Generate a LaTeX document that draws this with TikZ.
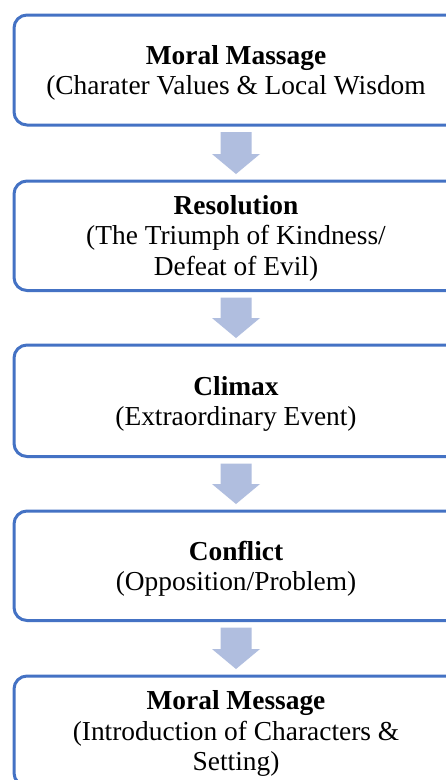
\documentclass[tikz,border=0pt]{standalone}
\usepackage{fontspec}
\setmainfont{Liberation Serif}
\usetikzlibrary{calc}
\definecolor{boxblue}{RGB}{68,114,196}
\definecolor{arrowfill}{RGB}{176,190,223}
\tikzset{
  stagebox/.style={draw=boxblue, line width=3pt, rounded corners=13pt, fill=white,
    minimum width=446pt, outer sep=0pt, inner sep=0pt},
  stagetext/.style={align=center, inner sep=0pt,
    font=\fontsize{27.4}{30.5}\selectfont},
  blockarrow/.style={fill=arrowfill, draw=none}
}
\newcommand{\downarrowblock}[2]{%
  \coordinate (t) at ($(#1.south)+(-1,7)$);
  \coordinate (p) at ($(#2.north)+(-1,-7)$);
  \fill[blockarrow] ($(t)+(-15.5,0)$) -- ($(t)+(15.5,0)$) -- ($(p)+(15.5,-20)$)
    -- ($(p)+(24,-20)$) -- (p) -- ($(p)+(-24,-20)$) -- ($(p)+(-15.5,-20)$) -- cycle;
}
\begin{document}
\begin{tikzpicture}[x=1pt,y=-1pt]
\useasboundingbox (0,0) rectangle (446,780);
\clip (0,0) rectangle (446,780);
\fill[white] (0,0) rectangle (446,780);
\node[stagebox, minimum height=110pt] (b1) at (237,70) {};
\node[stagebox, minimum height=109.5pt] (b2) at (237,235.75) {};
\node[stagebox, minimum height=111.5pt] (b3) at (237,400.75) {};
\node[stagebox, minimum height=109.5pt] (b4) at (237,565.75) {};
\node[stagebox, minimum height=110pt] (b5) at (237,731) {};
\node[stagetext] (l1) at ($(b1.center)+(-1,3)$)
  {\textbf{Moral Massage}\\(Charater Values \& Local Wisdom};
\node[stagetext] (l2) at ($(b2.center)+(-1,2.5)$)
  {\textbf{Resolution}\\(The Triumph of Kindness/\\Defeat of Evil)};
\node[stagetext] (l3) at ($(b3.center)+(-1,3)$)
  {\textbf{Climax}\\(Extraordinary Event)};
\node[stagetext] (l4) at ($(b4.center)+(-1,3)$)
  {\textbf{Conflict}\\(Opposition/Problem)};
\node[stagetext] (l5) at ($(b5.center)+(-1,2.5)$)
  {\textbf{Moral Message}\\(Introduction of Characters \&\\Setting)};
\downarrowblock{b1}{b2}
\downarrowblock{b2}{b3}
\downarrowblock{b3}{b4}
\downarrowblock{b4}{b5}
\end{tikzpicture}
\end{document}
